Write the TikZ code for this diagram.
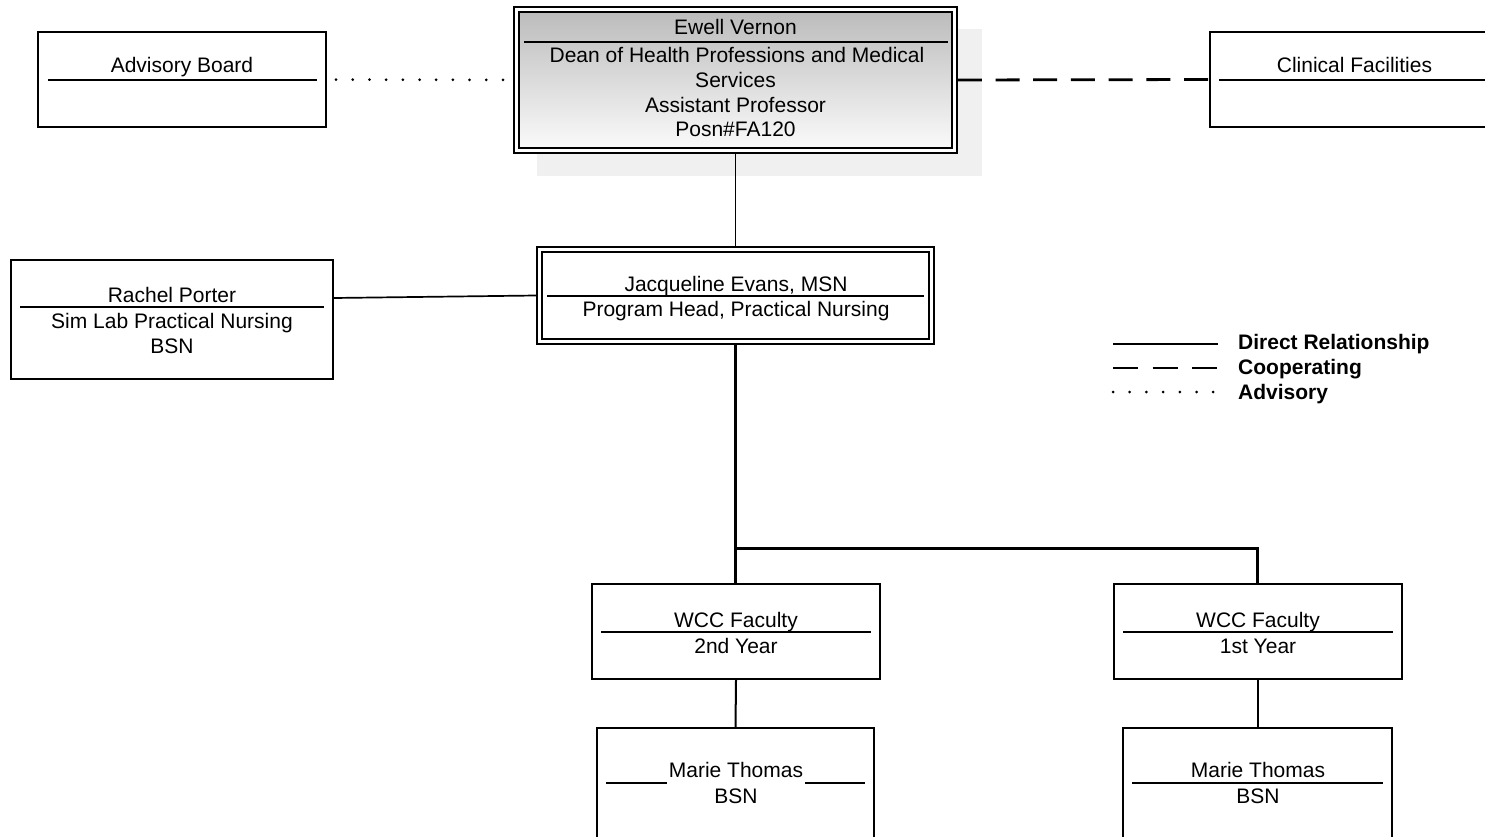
\documentclass[tikz,border=0pt]{standalone}
\usepackage{fontspec}
\setmainfont{Liberation Sans}
\definecolor{shadowc}{RGB}{240,240,240}
\definecolor{gradtop}{RGB}{188,188,188}
\definecolor{gradbot}{RGB}{250,250,250}
\begin{document}
\begin{tikzpicture}[x=1pt,y=-1pt,
  box/.style={draw, line width=2pt, fill=white, inner sep=0pt},
  dbl/.style={draw, line width=1.6pt, inner sep=0pt},
  txt/.style={inner sep=0pt, anchor=base, font=\fontsize{21pt}{25pt}\selectfont},
  legtxt/.style={inner sep=0pt, anchor=base west, font=\fontsize{21pt}{25pt}\selectfont\bfseries},
  divider/.style={line width=1.7pt},
  direct/.style={line width=1.7pt},
  directthick/.style={line width=3pt},
  coop/.style={line width=2.8pt, dash pattern=on 24pt off 13.7pt},
  advis/.style={line width=3pt, line cap=round, dash pattern=on 0pt off 16.7pt}]
\useasboundingbox (0,0) rectangle (1485,837);

% boxes
\node[box, minimum width=288pt, minimum height=95pt] (adv) at (182,79.5) {};
\node[box, minimum width=288pt, minimum height=95pt] (clin) at (1354,79.5) {};
\fill[shadowc] (537,29) rectangle (982,176);
\node[dbl, fill=white, minimum width=443pt, minimum height=146pt] (dean) at (735.5,80) {};
\node[dbl, top color=gradtop, bottom color=gradbot, minimum width=433pt, minimum height=136pt] (deanin) at (735.5,80) {};
\node[dbl, fill=white, minimum width=397pt, minimum height=97pt] (jac) at (735.5,295.5) {};
\node[dbl, minimum width=387pt, minimum height=87pt] (jacin) at (735.5,295.5) {};
\node[box, minimum width=322pt, minimum height=119pt] (rp) at (172,319.5) {};
\node[box, minimum width=288pt, minimum height=95pt] (f2) at (736,631.5) {};
\node[box, minimum width=288pt, minimum height=95pt] (f1) at (1257.5,631.5) {};
\node[box, minimum width=277pt, minimum height=160pt] (m2) at (735.5,808) {};
\node[box, minimum width=269pt, minimum height=160pt] (m1) at (1257.5,808) {};

% dividers
\draw[divider] (48,80) -- (317,80);
\draw[divider] (1219,80) -- (1500,80);
\draw[divider] (524,42) -- (948,42);
\draw[divider] (547,296) -- (924,296);
\draw[divider] (20,307) -- (324,307);
\draw[divider] (601,632) -- (871,632);
\draw[divider] (1123,632) -- (1393,632);
\draw[divider] (606,783) -- (865,783);
\draw[divider] (1132,783) -- (1383,783);

% texts
\node[txt] (tadv) at (182,73) {Advisory Board};
\node[txt] (tclin) at (1354.5,73) {Clinical Facilities};
\node[txt] (td1) at (735.5,35) {Ewell Vernon};
\node[txt] (td2) at (737,63) {Dean of Health Professions and Medical};
\node[txt] (td3) at (735.5,88) {Services};
\node[txt] (td4) at (735.5,113) {Assistant Professor};
\node[txt] (td5) at (735.5,137) {Posn\#FA120};
\node[txt] (tj1) at (736,291) {Jacqueline Evans, MSN};
\node[txt] (tj2) at (736,316) {Program Head, Practical Nursing};
\node[txt] (tr1) at (172,302) {Rachel Porter};
\node[txt] (tr2) at (172,328) {Sim Lab Practical Nursing};
\node[txt] (tr3) at (172,353) {BSN};
\node[txt] (tf21) at (736,627) {WCC Faculty};
\node[txt] (tf22) at (736,653) {2nd Year};
\node[txt] (tf11) at (1258,627) {WCC Faculty};
\node[txt] (tf12) at (1258,653) {1st Year};
\node[txt, fill=white, inner xsep=2pt, text depth=8pt] (tm21) at (736,777) {Marie Thomas};
\node[txt] (tm22) at (736,803) {BSN};
\node[txt] (tm11) at (1258,777) {Marie Thomas};
\node[txt] (tm12) at (1258,803) {BSN};

% connectors
\draw[direct] (dean.south) -- (jac.north);
\draw[direct] ([yshift=21.5pt]rp.east) -- (jac.west);
\draw[advis, dash phase=7.7pt] (adv.east) -- (dean.west);
\draw[coop] (dean.east) -- (clin.west);
\coordinate (junc) at (735.5,548);
\draw[directthick] (jac.south) -- (junc) -- (junc -| f1.north) -- (f1.north);
\draw[directthick] (junc) -- (f2.north -| junc);
\draw[line width=2pt] (f2.south) -- (m2.north);
\draw[line width=2pt] (f1.south) -- (m1.north);

% legend
\coordinate (l1a) at (1113,344); \coordinate (l1b) at (1218,344);
\coordinate (l2a) at (1113,368); \coordinate (l2b) at (1218,368);
\coordinate (l3a) at (1113,392); \coordinate (l3b) at (1218,392);
\draw[direct] (l1a) -- (l1b);
\draw[coop, dash pattern=on 25pt off 14.5pt] (l2a) -- (l2b);
\draw[advis] (l3a) -- (l3b);
\node[legtxt] (lg1) at (1238,349) {Direct Relationship};
\node[legtxt] (lg2) at (1238,374) {Cooperating};
\node[legtxt] (lg3) at (1238,399) {Advisory};
\end{tikzpicture}
\end{document}
